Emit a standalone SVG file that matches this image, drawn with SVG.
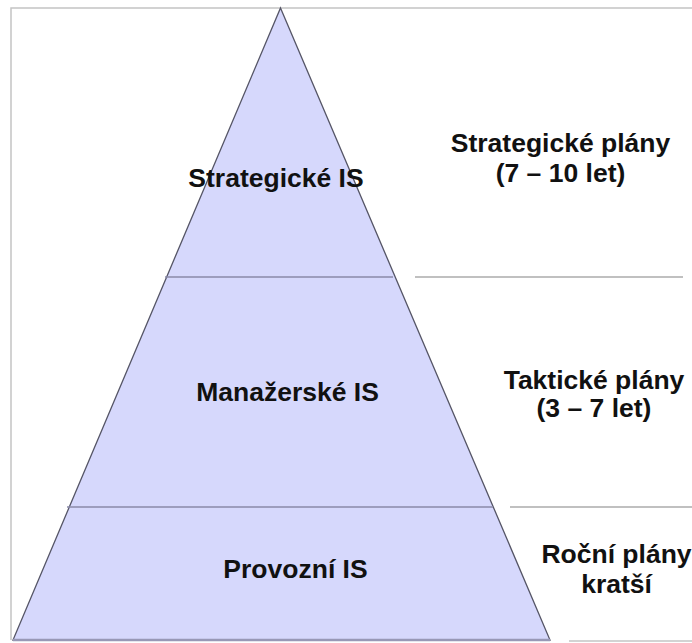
<svg xmlns="http://www.w3.org/2000/svg" width="692" height="643" viewBox="0 0 692 643">
  <style>
    .lbl { font-family: "Liberation Sans", Arial, sans-serif; font-weight: bold; font-size: 26.5px; fill: #111; text-anchor: middle; }
    .frame { stroke: #c4c4c4; stroke-width: 1.5; fill: none; }
    .sep { stroke: #c0c0c0; stroke-width: 2; }
    .tier { stroke: #8a8aa8; stroke-width: 1.5; }
  </style>
  <rect width="692" height="643" fill="#ffffff"/>

  <!-- outer frame -->
  <g id="frame">
    <polyline class="frame" points="11,640 11,8 692,8"/>
    <line class="frame" x1="569" y1="641" x2="692" y2="641"/>
  </g>

  <!-- pyramid body -->
  <g id="pyramid">
    <polygon points="280.5,8 550,640 13,640" fill="#d6d8fc" stroke="#555566" stroke-width="1.3" stroke-linejoin="miter"/>
    <line x1="13" y1="640" x2="550" y2="640" stroke="#9898b6" stroke-width="2.5"/>
  </g>

  <!-- tier dividers and side separators -->
  <g id="connectors">
    <line class="tier" x1="165" y1="277" x2="393" y2="277"/>
    <line class="tier" x1="67" y1="507" x2="493" y2="507"/>
    <line class="sep" x1="415" y1="277" x2="683" y2="277"/>
    <line class="sep" x1="510" y1="507" x2="692" y2="507"/>
  </g>

  <g id="strategic-is"><text class="lbl" x="276" y="187">Strategické IS</text></g>
  <g id="managerial-is"><text class="lbl" x="287.5" y="401">Manažerské IS</text></g>
  <g id="operational-is"><text class="lbl" x="295.5" y="578">Provozní IS</text></g>

  <g id="strategic-plans">
    <text class="lbl" x="560.5" y="152">Strategické plány</text>
    <text class="lbl" x="560.5" y="182">(7 – 10 let)</text>
  </g>
  <g id="tactical-plans">
    <text class="lbl" x="594" y="389">Taktické plány</text>
    <text class="lbl" x="594" y="417">(3 – 7 let)</text>
  </g>
  <g id="annual-plans">
    <text class="lbl" x="616.5" y="563">Roční plány</text>
    <text class="lbl" x="616.5" y="593">kratší</text>
  </g>
</svg>
